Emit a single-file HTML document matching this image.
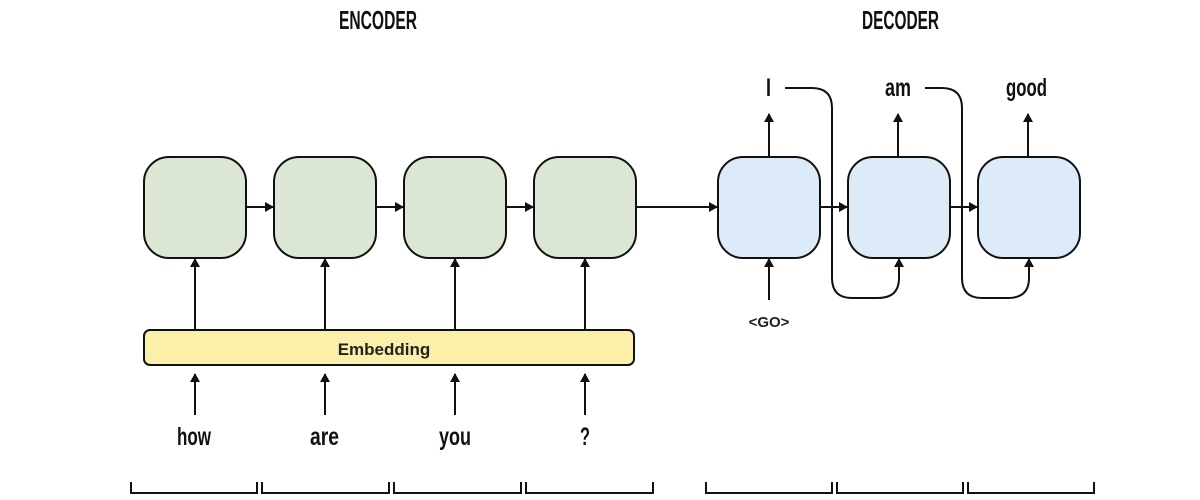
<!DOCTYPE html>
<html><head><meta charset="utf-8"><style>
html,body{margin:0;padding:0;background:#fff;}
svg{display:block;}
.c{font-family:"Liberation Sans Narrow","Liberation Sans",sans-serif;fill:#111;font-weight:bold;}
</style></head><body>
<svg width="1200" height="500" viewBox="0 0 1200 500" xmlns="http://www.w3.org/2000/svg">
<defs>
<marker id="a" markerWidth="10" markerHeight="10" refX="8" refY="5" orient="auto" markerUnits="userSpaceOnUse">
<path d="M0,0 L9,5 L0,10 z" fill="#111"/></marker>
</defs>
<g stroke="#111" stroke-width="2" fill="none">
<rect x="144" y="157" width="102" height="101" rx="25" fill="#dbe6d4"/>
<rect x="274" y="157" width="102" height="101" rx="25" fill="#dbe6d4"/>
<rect x="404" y="157" width="102" height="101" rx="25" fill="#dbe6d4"/>
<rect x="534" y="157" width="102" height="101" rx="25" fill="#dbe6d4"/>
<rect x="718" y="157" width="102" height="101" rx="25" fill="#dcebf7"/>
<rect x="848" y="157" width="102" height="101" rx="25" fill="#dcebf7"/>
<rect x="978" y="157" width="102" height="101" rx="25" fill="#dcebf7"/>
<rect x="144" y="330" width="490" height="35" rx="6" fill="#fbefa9"/>
<line x1="246" y1="207" x2="273" y2="207" marker-end="url(#a)"/>
<line x1="376" y1="207" x2="403" y2="207" marker-end="url(#a)"/>
<line x1="506" y1="207" x2="533" y2="207" marker-end="url(#a)"/>
<line x1="636" y1="207" x2="717" y2="207" marker-end="url(#a)"/>
<line x1="820" y1="207" x2="847" y2="207" marker-end="url(#a)"/>
<line x1="950" y1="207" x2="977" y2="207" marker-end="url(#a)"/>
<line x1="195" y1="330" x2="195" y2="259" marker-end="url(#a)"/>
<line x1="325" y1="330" x2="325" y2="259" marker-end="url(#a)"/>
<line x1="455" y1="330" x2="455" y2="259" marker-end="url(#a)"/>
<line x1="585" y1="330" x2="585" y2="259" marker-end="url(#a)"/>
<line x1="195" y1="415" x2="195" y2="374" marker-end="url(#a)"/>
<line x1="325" y1="415" x2="325" y2="374" marker-end="url(#a)"/>
<line x1="455" y1="415" x2="455" y2="374" marker-end="url(#a)"/>
<line x1="585" y1="415" x2="585" y2="374" marker-end="url(#a)"/>
<line x1="769" y1="157" x2="769" y2="114" marker-end="url(#a)"/>
<line x1="898" y1="157" x2="898" y2="114" marker-end="url(#a)"/>
<line x1="1028" y1="157" x2="1028" y2="114" marker-end="url(#a)"/>
<line x1="769" y1="300" x2="769" y2="259" marker-end="url(#a)"/>
<path d="M785,88 H812 Q832,88 832,108 V278 Q832,298 852,298 H878 Q899,298 899,278 V259" marker-end="url(#a)"/>
<path d="M925,88 H942 Q962,88 962,108 V278 Q962,298 982,298 H1008 Q1029,298 1029,278 V259" marker-end="url(#a)"/>
<path d="M131,482 V493 H257 V482"/>
<path d="M262,482 V493 H389 V482"/>
<path d="M394,482 V493 H521 V482"/>
<path d="M526,482 V493 H653 V482"/>
<path d="M706,482 V493 H832 V482"/>
<path d="M837,482 V493 H963 V482"/>
<path d="M968,482 V493 H1094 V482"/>
</g>
<g class="c" font-size="26">
<text x="339" y="29" textLength="78" lengthAdjust="spacingAndGlyphs">ENCODER</text>
<text x="862" y="29" textLength="77" lengthAdjust="spacingAndGlyphs">DECODER</text>
</g>
<g class="c" font-size="25">
<text x="177" y="445" textLength="34" lengthAdjust="spacingAndGlyphs">how</text>
<text x="310" y="445" textLength="29" lengthAdjust="spacingAndGlyphs">are</text>
<text x="439" y="445" textLength="32" lengthAdjust="spacingAndGlyphs">you</text>
<text x="580" y="445" textLength="10" lengthAdjust="spacingAndGlyphs">?</text>
<text x="766" y="96" textLength="5" lengthAdjust="spacingAndGlyphs">I</text>
<text x="885" y="96" textLength="26" lengthAdjust="spacingAndGlyphs">am</text>
<text x="1006" y="96" textLength="41" lengthAdjust="spacingAndGlyphs">good</text>
</g>
<text x="384" y="355" text-anchor="middle" font-family="Liberation Sans, sans-serif" font-weight="bold" font-size="17" fill="#222">Embedding</text>
<text x="769" y="327" text-anchor="middle" font-family="Liberation Sans, sans-serif" font-weight="bold" font-size="15" fill="#222">&lt;GO&gt;</text>
</svg>
</body></html>
